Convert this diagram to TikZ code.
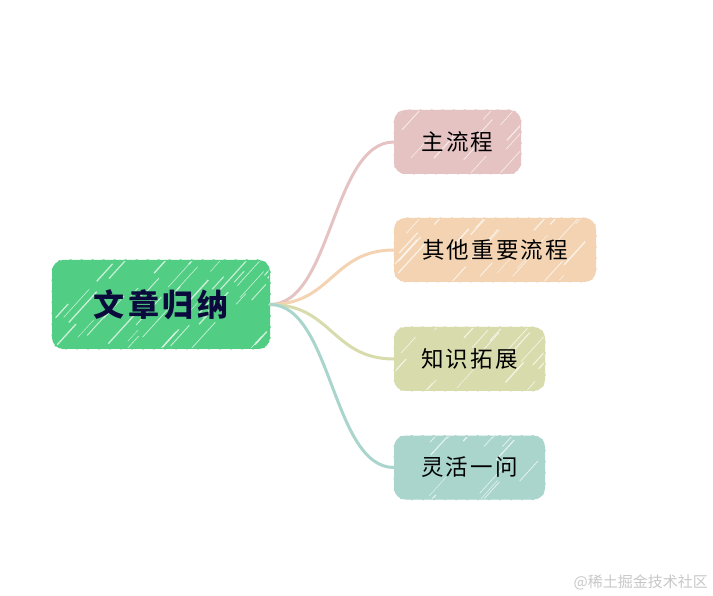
\documentclass[tikz,border=0pt]{standalone}
\usepackage{fontspec}
\setmainfont{Noto Sans CJK SC}

\definecolor{rootgreen}{HTML}{52CE84}
\definecolor{mainpink}{HTML}{E6C3C3}
\definecolor{otherorange}{HTML}{F3D3B1}
\definecolor{knowolive}{HTML}{D8DBAB}
\definecolor{askteal}{HTML}{A9D5CC}
\definecolor{rootink}{HTML}{0A0A3C}

% white scribble strokes: seed, count, half width, half height
\newcommand{\scribble}[4]{%
  \pgfmathsetseed{#1}%
  \foreach \i in {1,...,#2}{%
    \pgfmathsetmacro{\hx}{rand*#3}%
    \pgfmathsetmacro{\hy}{rand*#4}%
    \pgfmathsetmacro{\hl}{8+rnd*24}%
    \pgfmathsetmacro{\hw}{0.4+rnd*1.0}%
    \draw[white,line width=\hw pt,opacity=0.7]
      ([shift={(\hx pt,\hy pt)}]path picture bounding box.center)
      -- ++(\hl pt,\hl*1.1 pt);
  }%
}

\tikzset{
  sketch/.style={draw=#1,fill=#1,line width=1pt,rounded corners=11pt,anchor=center,inner sep=0pt,
    postaction={draw=#1,line width=2pt,dash pattern=on 2pt off 9pt}},
  rootbox/.style={sketch=rootgreen,minimum width=217pt,minimum height=88pt,
    text=rootink,font=\fontsize{31}{33}\selectfont\bfseries\addfontfeature{LetterSpace=12}},
  topicbox/.style={sketch=#1,minimum height=63pt,
    text=black,font=\fontsize{22.5}{26}\selectfont\addfontfeature{LetterSpace=9}},
  branch/.style={draw=#1,line width=3pt,line cap=round},
}

\begin{document}
\begin{tikzpicture}[x=1pt,y=-1pt]
  \useasboundingbox (0,0) rectangle (713,596);

  % root
  \node[rootbox,path picture={\scribble{7}{60}{110}{60}}] (root) at (161,304.5) {文章归纳};

  % topics
  \node[topicbox=mainpink,minimum width=126pt,path picture={\scribble{11}{18}{75}{45}}] (main) at (457.5,142) {主流程};
  \node[topicbox=otherorange,minimum width=201pt,path picture={\scribble{23}{28}{110}{45}}] (other) at (495,250) {其他重要流程};
  \node[topicbox=knowolive,minimum width=150pt,path picture={\scribble{31}{22}{85}{45}}] (know) at (469.5,359) {知识拓展};
  \node[topicbox=askteal,minimum width=150pt,path picture={\scribble{41}{22}{85}{45}}] (ask) at (469.5,467.5) {灵活一问};

  %branches
  \draw[branch=mainpink] (root.east) .. controls +(62,0) and +(-62,0) .. (main.west);
  \draw[branch=otherorange] (root.east) .. controls +(62,0) and +(-62,0) .. (other.west);
  \draw[branch=knowolive] (root.east) .. controls +(62,0) and +(-62,0) .. (know.west);
  \draw[branch=askteal] (root.east) .. controls +(62,0) and +(-62,0) .. (ask.west);

  %watermark
  \node[anchor=east,text=black!22,font=\fontsize{15}{18}\selectfont,inner sep=0pt] (mark) at (708,582) {@稀土掘金技术社区};
\end{tikzpicture}
\end{document}
